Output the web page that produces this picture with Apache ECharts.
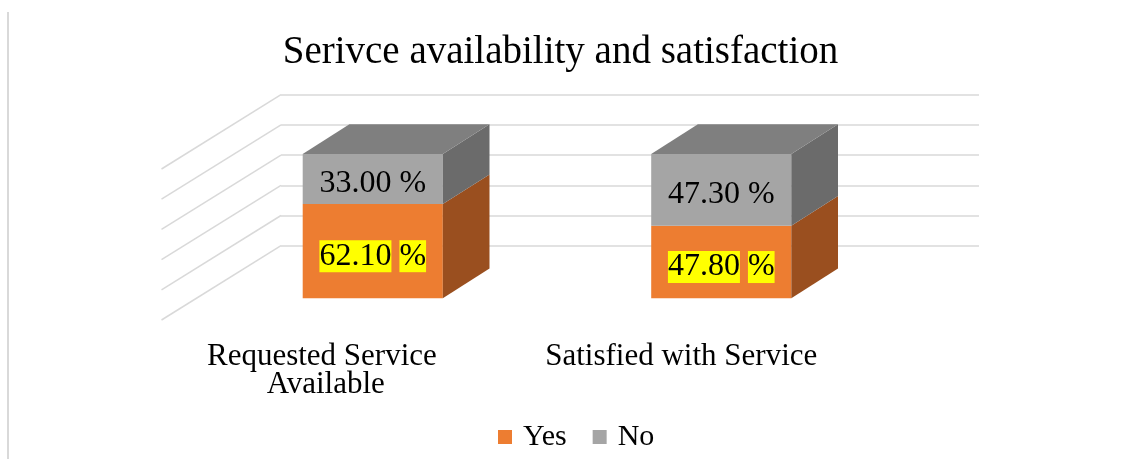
<!DOCTYPE html>
<html>
<head>
<meta charset="utf-8">
<script src="https://cdn.jsdelivr.net/npm/echarts@6/dist/echarts.min.js"></script>
<style>
  html, body { margin: 0; padding: 0; background: #fff; }
  #chart { width: 1121px; height: 459px; }
</style>
</head>
<body>
<div id="chart"></div>
<script>
const categories = ['Requested Service Available', 'Satisfied with Service']
const yesValues = [62.1, 47.8]
const noValues = [33.0, 47.3]
const wallTicks = [0, 20, 40, 60, 80, 100]

const FONT = "'Liberation Serif', 'Times New Roman', serif"
// depth of the 3d boxes / side wall, in px
const DX = 46.7
const DY = -29.7
const WALL_DX = -119.5
const WALL_DY = 74.3

const colors = {
  yes: { front: '#ED7D31', side: '#9A4F1F', top: '#B8611F' },
  no: { front: '#A5A5A5', side: '#6B6B6B', top: '#7F7F7F' }
}

const myChart = echarts.init(document.getElementById('chart'))

// stack: [index, base, top, value]
const yesData = categories.map((c, i) => [i, 0, yesValues[i], yesValues[i]])
const noData = categories.map((c, i) => [i, yesValues[i], yesValues[i] + noValues[i], noValues[i]])

const boxRender = (pal, isTop, highlight) => (params, api) => {
  const i = api.value(0)
  const pb = api.coord([i, api.value(1)])
  const pt = api.coord([i, api.value(2)])
  const bw = api.size([1, 0])[0] * 0.402
  const xl = pb[0] - bw / 2
  const xr = pb[0] + bw / 2
  const yb = pb[1]
  const yt = pt[1]
  const txt = api.value(3).toFixed(2)
  const children = [
    {
      type: 'rect',
      shape: { x: xl, y: yt, width: bw, height: yb - yt },
      style: { fill: pal.front }
    },
    {
      type: 'polygon',
      shape: { points: [[xr, yb], [xr + DX, yb + DY], [xr + DX, yt + DY], [xr, yt]] },
      style: { fill: pal.side }
    }
  ]
  if (isTop) {
    children.push({
      type: 'polygon',
      shape: { points: [[xl, yt], [xl + DX, yt + DY], [xr + DX, yt + DY], [xr, yt]] },
      style: { fill: pal.top }
    })
  }
  children.push({
    type: 'text',
    x: pb[0],
    y: (yb + yt) / 2 + 5,
    style: highlight
      ? {
          text: '{h|' + txt + '} {h|%}',
          fontSize: 32,
          fontFamily: FONT,
          fill: '#000',
          align: 'center',
          verticalAlign: 'middle',
          rich: {
            h: { backgroundColor: '#FFFF00', fontSize: 32, fontFamily: FONT, lineHeight: 37, color: '#000' }
          }
        }
      : {
          text: txt + ' %',
          fontSize: 32,
          fontFamily: FONT,
          fill: '#000',
          align: 'center',
          verticalAlign: 'middle'
        }
  })
  return { type: 'group', children }
}

const option = {
  backgroundColor: '#fff',
  animation: false,
  title: {
    text: 'Serivce availability and satisfaction',
    left: 'center',
    top: 28,
    textStyle: { fontFamily: FONT, fontSize: 39, fontWeight: 'normal', color: '#000' }
  },
  legend: {
    data: ['Yes', 'No'],
    left: 493,
    top: 417,
    icon: 'rect',
    itemWidth: 14,
    itemHeight: 14,
    itemGap: 26,
    textStyle: { fontFamily: FONT, fontSize: 30, color: '#000', padding: [0, 0, 0, 6] }
  },
  graphic: [
    {
      type: 'line',
      shape: { x1: 8, y1: 12, x2: 8, y2: 459 },
      style: { stroke: '#D9D9D9', lineWidth: 2 },
      silent: true
    }
  ],
  grid: [
    // back wall
    { left: 281, right: 142, top: 94.7, bottom: 213.3 },
    // front plane of the boxes
    { left: 198.5, right: 225.5, top: 146.6, bottom: 160.7 },
    // category labels on the floor edge
    { left: 148, right: 262, top: 300, bottom: 125 }
  ],
  xAxis: [
    { gridIndex: 0, type: 'value', min: 0, max: 1, show: false },
    { gridIndex: 1, type: 'category', data: categories, show: false },
    {
      gridIndex: 2,
      type: 'category',
      data: categories,
      axisLine: { show: false },
      axisTick: { show: false },
      axisLabel: {
        fontFamily: FONT,
        fontSize: 31,
        lineHeight: 28,
        color: '#000',
        margin: 9,
        width: 300,
        overflow: 'break',
        interval: 0
      }
    }
  ],
  yAxis: [
    {
      gridIndex: 0,
      type: 'value',
      min: 0,
      max: 100,
      interval: 20,
      axisLine: { show: false },
      axisTick: { show: false },
      axisLabel: { show: false },
      splitLine: { show: true, lineStyle: { color: '#D9D9D9', width: 1.5 } }
    },
    { gridIndex: 1, type: 'value', min: 0, max: 100, show: false },
    { gridIndex: 2, type: 'value', show: false }
  ],
  series: [
    {
      // side wall gridlines
      type: 'custom',
      xAxisIndex: 0,
      yAxisIndex: 0,
      silent: true,
      data: wallTicks.map((v) => [0, v]),
      encode: { x: 0, y: 1 },
      renderItem: (params, api) => {
        const p = api.coord([0, api.value(1)])
        return {
          type: 'line',
          shape: { x1: p[0], y1: p[1], x2: p[0] + WALL_DX, y2: p[1] + WALL_DY },
          style: { stroke: '#D9D9D9', lineWidth: 1.5 }
        }
      }
    },
    {
      name: 'Yes',
      type: 'custom',
      xAxisIndex: 1,
      yAxisIndex: 1,
      itemStyle: { color: colors.yes.front },
      data: yesData,
      encode: { x: 0, y: [1, 2] },
      renderItem: boxRender(colors.yes, false, true)
    },
    {
      name: 'No',
      type: 'custom',
      xAxisIndex: 1,
      yAxisIndex: 1,
      itemStyle: { color: colors.no.front },
      data: noData,
      encode: { x: 0, y: [1, 2] },
      renderItem: boxRender(colors.no, true, false)
    }
  ]
}

myChart.setOption(option)
</script>
</body>
</html>
